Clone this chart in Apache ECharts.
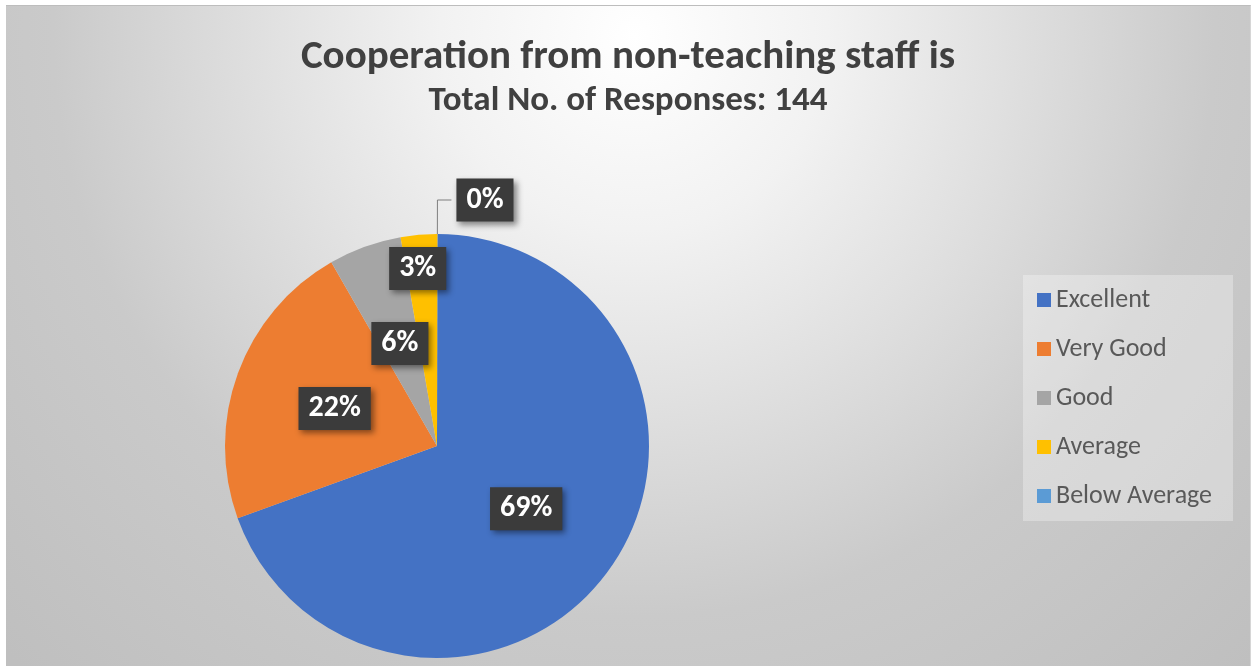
<!DOCTYPE html>
<html>
<head>
<meta charset="utf-8">
<script src="https://cdn.jsdelivr.net/npm/echarts@6/dist/echarts.min.js"></script>
<style>
  html, body { margin: 0; padding: 0; background: #ffffff; }
  #chart { position: absolute; left: 6px; top: 5px; width: 1245px; height: 661px;
           border-top: 1px solid #bdbdbd; border-right: 1px solid #d6d6d6; box-sizing: border-box; }
</style>
</head>
<body>
<div id="chart"></div>
<script>
const titleText = 'Cooperation from non-teaching staff is';
const subtitleText = 'Total No. of Responses: 144';
const categories = ['Excellent', 'Very Good', 'Good', 'Average', 'Below Average'];
const values = [100, 32, 8, 4, 0];
const colors = ['#4472C4', '#ED7D31', '#A5A5A5', '#FFC000', '#5B9BD5'];

const FONT = 'Carlito, Lato, "Open Sans", sans-serif';
const chart = echarts.init(document.getElementById('chart'));

const data = categories.map((name, i) => {
  const item = { name: name, value: values[i], itemStyle: { color: colors[i] } };
  if (values[i] === 0) {
    item.label = { position: 'outside', align: 'left' };
    item.labelLine = { show: true, length: 34, length2: 14, lineStyle: { color: '#7f7f7f', width: 1 } };
  }
  return item;
});

chart.setOption({
  backgroundColor: {
    type: 'radial', x: 628, y: 30, r: 880, global: true,
    colorStops: [
      { offset: 0, color: '#ffffff' },
      { offset: 0.22, color: '#f2f2f2' },
      { offset: 0.4, color: '#e2e2e2' },
      { offset: 0.52, color: '#d7d7d7' },
      { offset: 0.66, color: '#cacaca' },
      { offset: 1, color: '#bfbfbf' }
    ]
  },
  title: [
    { text: titleText, left: 'center', top: 26,
      textStyle: { fontFamily: FONT, fontSize: 41, fontWeight: 'bold', color: '#404040' } },
    { text: subtitleText, left: 'center', top: 73,
      textStyle: { fontFamily: FONT, fontSize: 35, fontWeight: 'bold', color: '#404040' } }
  ],
  legend: {
    orient: 'vertical', left: 1017, top: 269,
    data: categories,
    icon: 'rect', itemWidth: 14, itemHeight: 14, itemGap: 19,
    padding: [10, 21, 10, 14],
    backgroundColor: 'rgba(255,255,255,0.3)',
    textStyle: { fontFamily: FONT, fontSize: 26, color: '#595959', lineHeight: 30 }
  },
  series: [{
    type: 'pie',
    center: [431, 440],
    radius: 212,
    startAngle: 89.9,
    clockwise: true,
    avoidLabelOverlap: false,
    data: data,
    label: {
      show: true, position: 'inside',
      formatter: p => Math.round(p.percent) + '%',
      fontFamily: FONT, fontSize: 30, fontWeight: 'bold', color: '#ffffff',
      backgroundColor: '#3b3b3b', padding: [7, 10, 6, 10],
      shadowColor: 'rgba(0,0,0,0.45)', shadowBlur: 6, shadowOffsetX: 3, shadowOffsetY: 3
    },
    labelLine: { show: false },
    labelLayout: function (p) {
      if (p.dataIndex === 3) return { dx: -10, dy: -69 };
      return {};
    },
    emphasis: { disabled: true }
  }]
});
</script>
</body>
</html>
